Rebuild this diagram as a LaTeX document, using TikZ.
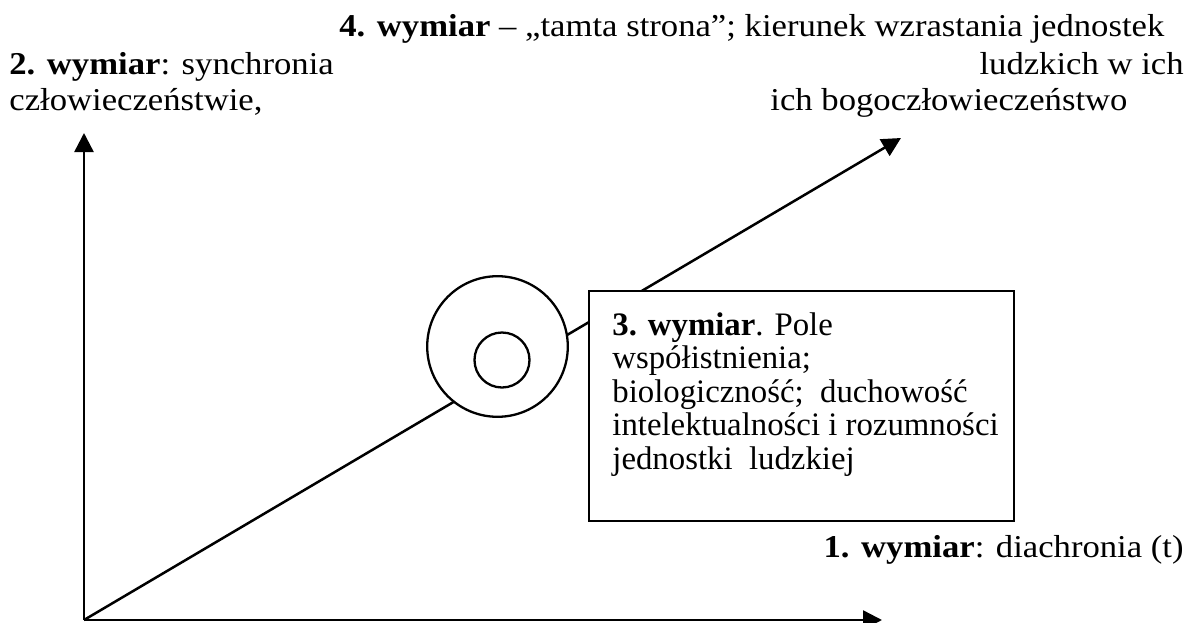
\documentclass[tikz,border=0pt]{standalone}
\usepackage{fontspec}
\setmainfont[FakeStretch=1.09]{Liberation Serif}
\newfontfamily\plainserif{Liberation Serif}
\usetikzlibrary{arrows.meta}

\begin{document}
\begin{tikzpicture}[x=0.5pt, y=-0.5pt, font=\fontsize{15.9}{18}\selectfont]

\tikzstyle{axis} = [line width=1.25pt, -{Triangle[width=9.5pt, length=9.5pt]}]
\tikzstyle{ring} = [circle, draw=black, line width=1.15pt, fill=white, inner sep=0pt]
\tikzstyle{field} = [rectangle, draw=black, line width=1.2pt, fill=white, inner sep=0pt, outer sep=0pt]
\tikzstyle{label} = [inner sep=0pt]

\useasboundingbox (0,0) rectangle (1190,622);

\coordinate (origin) at (84,620);
\coordinate (dimtop) at (84,133);
\coordinate (dimright) at (882,620);
\coordinate (dimfar) at (901,138);

\draw[axis] (origin) -- (dimtop);
\draw[axis] (origin) -- (dimright);
\draw[axis] (origin) -- (dimfar);

\node[ring, minimum size=70.3pt] (outer) at (497.5,346.5) {};
\node[ring, minimum size=27.5pt] (inner) at (502,360) {};

\node[field, anchor=north west, minimum width=212.5pt, minimum height=115pt] (box) at (589,291) {};
\node[label, anchor=base west, align=left, font=\plainserif\fontsize{16.4}{16.75}\selectfont] (boxtext) at (612,469)
  {\textbf{3. wymiar}. Pole\\współistnienia;\\biologiczność;\ \ duchowość\\intelektualności i rozumności\\jednostki\ \ ludzkiej};

\node[label, anchor=base east] (dim1) at (1184,557) {\textbf{1. wymiar}: diachronia (t)};
\node[label, anchor=base west, align=left] (dim2) at (9,110) {\textbf{2. wymiar}: synchronia\\człowieczeństwie,};
\node[label, anchor=base west] (dim4) at (339,36) {\textbf{4. wymiar} – „tamta strona”; kierunek wzrastania jednostek};
\node[label, anchor=base east] (dim4b) at (1184,74) {ludzkich w ich};
\node[label, anchor=base west] (dim4c) at (770,110) {ich bogoczłowieczeństwo};

\end{tikzpicture}
\end{document}
